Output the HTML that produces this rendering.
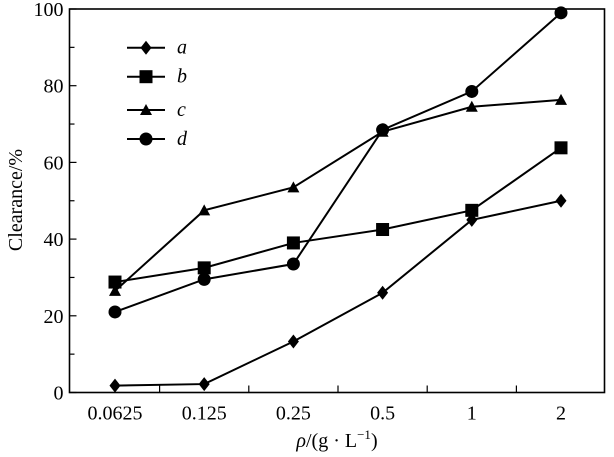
<!DOCTYPE html>
<html><head><meta charset="utf-8"><style>
html,body{margin:0;padding:0;background:#fff;}
svg{display:block;font-family:"Liberation Serif","Times New Roman",serif;}
</style></head><body>
<svg id="chart" width="614" height="457" viewBox="0 0 614 457"></svg>
<script>
const categories = ["0.0625","0.125","0.25","0.5","1","2"];
const seriesA = [1.8, 2.2, 13.3, 26, 45, 50];
const seriesB = [28.8, 32.5, 39, 42.5, 47.5, 63.8];
const seriesC = [26.5, 47.5, 53.5, 68, 74.5, 76.3];
const seriesD = [21, 29.5, 33.5, 68.5, 78.5, 99];
const yTicks = [0,20,40,60,80,100];
const seriesNames = ["a","b","c","d"];

const NS="http://www.w3.org/2000/svg";
const svg=document.getElementById('chart');
const L=69.5,R=604.5,T=9,B=392.5;
const x0=115, dx=89.2;
function xs(i){return x0+i*dx;}
function ys(v){return B-(v/100)*(B-T);}
function mk(tag,attrs,parent){const e=document.createElementNS(NS,tag);for(const k in attrs)e.setAttribute(k,attrs[k]);(parent||svg).appendChild(e);return e;}

const frame=mk('rect',{x:L,y:T,width:R-L,height:B-T,fill:'none',stroke:'#000','stroke-width':1.6});



// y ticks
for(let v=0;v<=100;v+=10){
  const t=mk('line',{x1:L,x2:L+(v%20===0?7:5),y1:ys(v),y2:ys(v),stroke:'#000','stroke-width':1.2});
  
  
}
yTicks.forEach(v=>{
  const t=mk('text',{x:L-6,y:ys(v)+7,'text-anchor':'end','font-size':20});
  t.textContent=v;
  
  
});
// x ticks between categories
for(let i=0;i<categories.length-1;i++){
  const xx=xs(i)+dx/2;
  const t=mk('line',{x1:xx,x2:xx,y1:B,y2:B-7,stroke:'#000','stroke-width':1.2});
  
  
}
categories.forEach((c,i)=>{
  const t=mk('text',{x:xs(i),y:B+27,'text-anchor':'middle','font-size':20});
  t.textContent=c;
  
  
});
const xt=mk('text',{x:337,y:447,'text-anchor':'middle','font-size':20});
xt.innerHTML='<tspan font-style="italic">ρ</tspan>/(g · L<tspan dy="-8" font-size="13">−1</tspan><tspan dy="8">)</tspan>';


const yt=mk('text',{x:0,y:0,'text-anchor':'middle','font-size':20,transform:'translate(22,200) rotate(-90)'});
yt.textContent='Clearance/%';



function marker(type,x,y,g){
  let e;
  if(type==='a') e=mk('polygon',{points:`${x},${y-7} ${x+5.5},${y} ${x},${y+7} ${x-5.5},${y}`,fill:'#000'},g);
  else if(type==='b') e=mk('rect',{x:x-6.5,y:y-6.5,width:13,height:13,fill:'#000'},g);
  else if(type==='c') e=mk('polygon',{points:`${x},${y-6} ${x+6},${y+5} ${x-6},${y+5}`,fill:'#000'},g);
  else e=mk('circle',{cx:x,cy:y,r:6.5,fill:'#000'},g);
  
  
}
const allSeries=[seriesA,seriesB,seriesC,seriesD];
allSeries.forEach((s,k)=>{
  const name=seriesNames[k];
  const g=mk('g',{});
  
  
  const pl=mk('polyline',{points:s.map((v,i)=>xs(i)+','+ys(v)).join(' '),fill:'none',stroke:'#000','stroke-width':2},g);
  
  
  s.forEach((v,i)=>marker(name,xs(i),ys(v),g));
});
// legend
const legY=[47.7,76.7,110,139];
const lg=mk('g',{});


seriesNames.forEach((n,k)=>{
  const g=mk('g',{},lg);
  
  
  mk('line',{x1:127,x2:165,y1:legY[k],y2:legY[k],stroke:'#000','stroke-width':2},g);
  marker(n,146,legY[k],g);
  const t=mk('text',{x:177,y:legY[k]+6,'font-size':20,'font-style':'italic'},g);
  t.textContent=n;
  
  
});
</script>
</body></html>
